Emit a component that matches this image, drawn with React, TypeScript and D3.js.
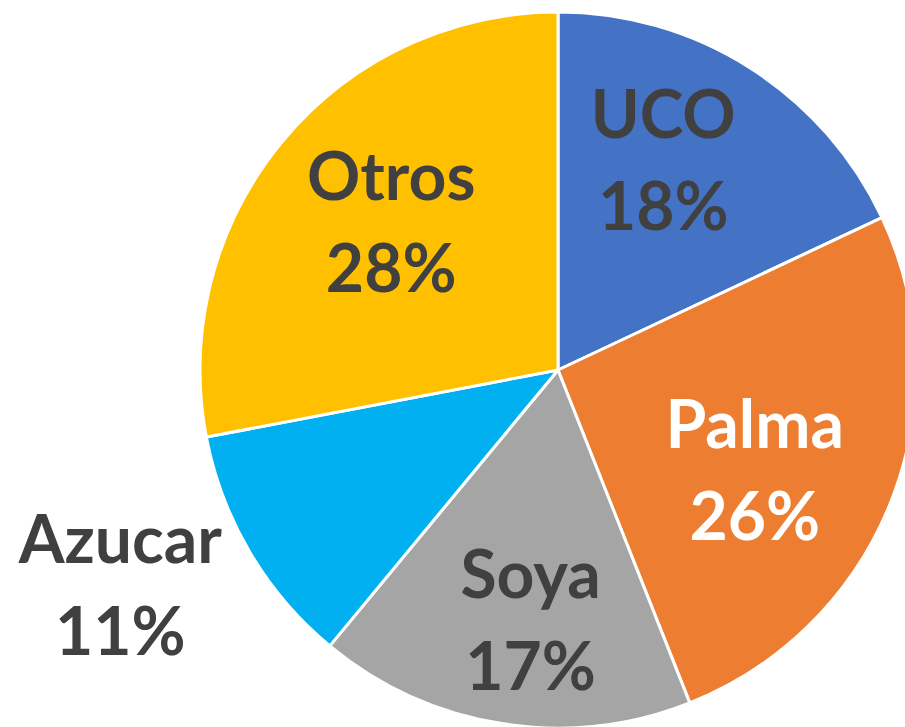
import React from "react";
import * as d3 from "d3";

const categories = ["UCO", "Palma", "Soya", "Azucar", "Otros"];
const values = [18, 26, 17, 11, 28];
const colors = ["#4472C4", "#ED7D31", "#A5A5A5", "#00B0F0", "#FFC000"];
const labelColors = ["#404040", "#FFFFFF", "#404040", "#404040", "#404040"];
// label placement: [angle offset (deg) from slice mid-angle, radius]
const labelPlacement: [number, number][] = [
  [-2.8, 213],
  [10.8, 233],
  [-3.3, 276],
  [1.9, 499],
  [-3.3, 207],
];

const W = 905;
const H = 727;
const cx = 558;
const cy = 370;
const R = 358;

export default function App() {
  const pie = d3.pie<number>().sort(null).value((d) => d)(values);
  const arc = d3.arc<d3.PieArcDatum<number>>().innerRadius(0).outerRadius(R);
  const total = d3.sum(values);
  return (
    <svg
      width={W}
      height={H}
      style={{ position: "absolute", left: 0, top: 0, background: "#fff" }}
    >
      <g transform={`translate(${cx},${cy})`}>
        {pie.map((p, i) => (
          <path
            key={categories[i]}
            d={arc(p) || ""}
            fill={colors[i]}
            stroke="#fff"
            strokeWidth={3}
            strokeLinejoin="round"
          />
        ))}
        {pie.map((p, i) => {
          const mid = (p.startAngle + p.endAngle) / 2 + (labelPlacement[i][0] * Math.PI) / 180;
          const r = labelPlacement[i][1];
          const x = Math.sin(mid) * r;
          const y = -Math.cos(mid) * r;
          const pct = Math.round((values[i] / total) * 100) + "%";
          return (
            <text
              key={"l" + i}
              x={x}
              y={y}
              textAnchor="middle"
              fill={labelColors[i]}
              style={{ fontFamily: "Lato, sans-serif", fontWeight: 700, fontSize: 66 }}
            >
              <tspan x={x} dy={-47}>{categories[i]}</tspan>
              <tspan x={x} dy={92}>{pct}</tspan>
            </text>
          );
        })}
      </g>
    </svg>
  );
}
